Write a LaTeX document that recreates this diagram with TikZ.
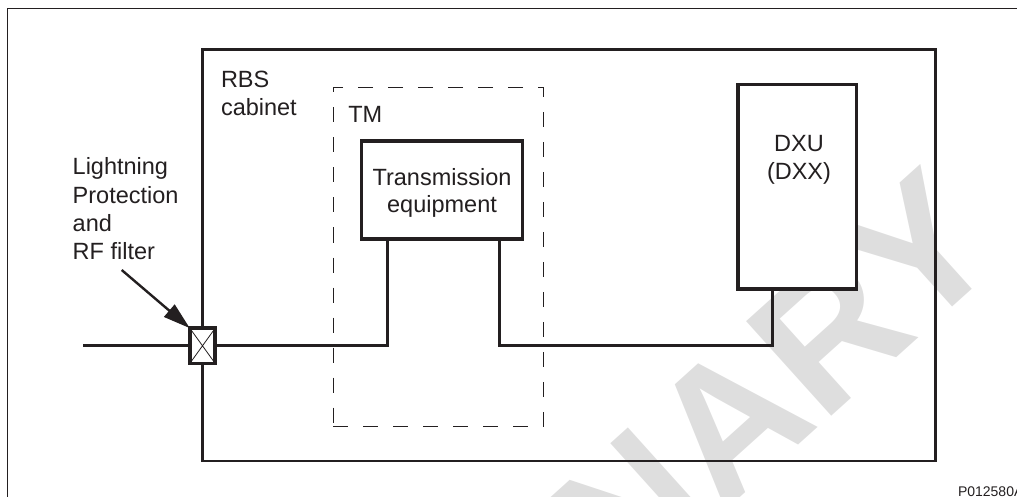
\documentclass[tikz,border=0pt]{standalone}
\usepackage{fontspec}
\setmainfont{Liberation Sans}
\usetikzlibrary{arrows.meta}
\definecolor{ink}{RGB}{35,31,32}
\definecolor{wmgray}{RGB}{222,222,222}
\tikzset{
  every node/.style={inner sep=0pt, outer sep=0pt, text=ink},
  txt/.style={font=\fontsize{23.5}{28.3}\selectfont},
  smalltxt/.style={font=\fontsize{14}{16}\selectfont},
  wmtxt/.style={font=\fontsize{185}{185}\selectfont\bfseries, text=wmgray},
  frameline/.style={draw=ink, line width=1.3pt},
  cabinetbox/.style={rectangle, draw=ink, line width=2.4pt},
  dashbox/.style={rectangle, draw=ink, line width=1pt, dash pattern=on 15pt off 15pt},
  unitbox/.style={rectangle, draw=ink, line width=3.5pt, fill=white},
  conn/.style={draw=ink, line width=3pt},
  crossline/.style={draw=ink, line width=0.8pt},
  pointer/.style={draw=ink, line width=2.4pt, -{Triangle[length=27pt,width=16pt]}}
}
\begin{document}
\begin{tikzpicture}[x=1pt, y=-1pt]
\useasboundingbox (0,0) rectangle (1017,497);
% watermark
\begin{scope}
  \clip (0,0) rectangle (1017,497);
  \node[wmtxt, rotate=42, anchor=base east] (watermark) at (1008,257) {PRELIMINARY};
\end{scope}
% outer frame (only left and top edges visible)
\draw[frameline] (7.3,520) |- (1030,8.8);
% boxes
\node[cabinetbox, minimum width=733.3pt, minimum height=411.4pt] (cab) at (569,255.3) {};
\node[dashbox, minimum width=210.2pt, minimum height=339.4pt] (tm) at (438.4,257) {};
\node[unitbox, minimum width=161pt, minimum height=98pt] (te) at (442,190) {};
\node[unitbox, minimum width=118.3pt, minimum height=204.7pt] (dxu) at (797.2,186.7) {};
\node[unitbox, minimum width=25.4pt, minimum height=35.3pt] (lp) at (202.5,345.8) {};
\draw[crossline] (lp.north west) -- (lp.south east) (lp.north east) -- (lp.south west);
\draw[unitbox, fill=none] (lp.north west) rectangle (lp.south east);
% connectors
\coordinate (linein) at (83.3,345.8);
\draw[conn] (linein) -- (lp.west);
\draw[conn] (lp.east) -| ([xshift=-54.5pt]te.south);
\draw[conn] ([xshift=57.5pt]te.south) -- ++(0,106.5) -| ([xshift=-24.7pt]dxu.south);
% pointer
\coordinate (arrowtail) at (121.7,270);
\draw[pointer] (arrowtail) -- (lp.north west);
% labels
\node[txt, anchor=base west] (cablabel) at (221,87.3) {\begin{tabular}[t]{@{}l@{}}RBS\\cabinet\end{tabular}};
\node[txt, anchor=base west] (tmlabel) at (348.3,122.7) {TM};
\node[txt, anchor=base] (telabel) at (442,186) {\fontsize{23.5}{26.5}\selectfont\begin{tabular}[t]{@{}c@{}}Transmission\\equipment\end{tabular}};
\node[txt, anchor=base] (dxulabel) at (799,151.7) {\begin{tabular}[t]{@{}c@{}}DXU\\(DXX)\end{tabular}};
\node[txt, anchor=base west] (lplabel) at (72.7,175) {\begin{tabular}[t]{@{}l@{}}Lightning\\Protection\\and\\RF filter\end{tabular}};
\node[smalltxt, anchor=base west] (figid) at (958,496.5) {P012580A};
\end{tikzpicture}
\end{document}
